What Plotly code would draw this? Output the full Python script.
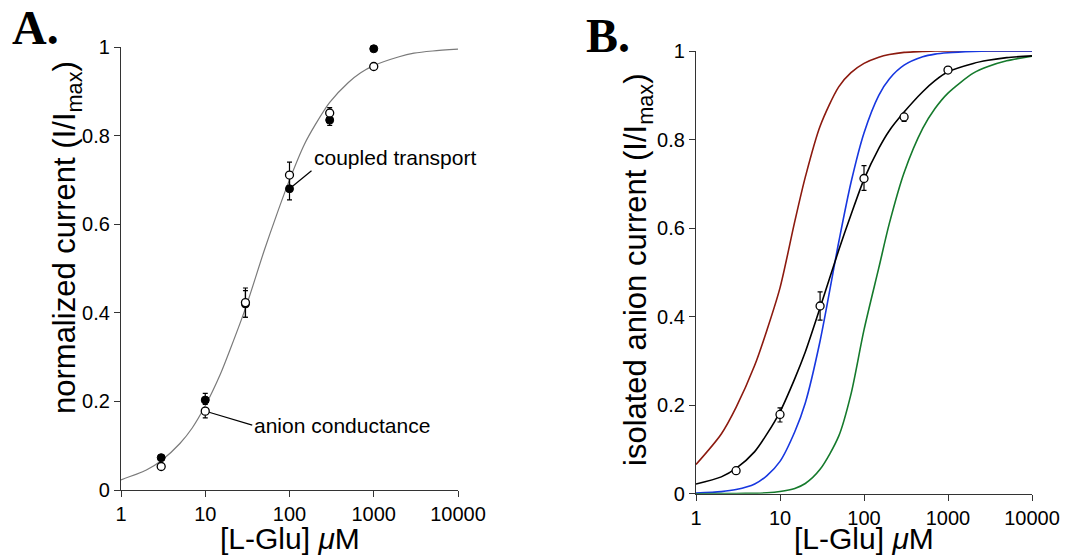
import plotly.graph_objects as go
import math

# ---------------- data ----------------
CONC = [3, 10, 30, 100, 300, 1000]

# Panel A
A_anion = [0.053, 0.178, 0.423, 0.711, 0.851, 0.956]
A_anion_err_plus = [0, 0, 0.033, 0.029, 0.012, 0]
A_anion_err_minus = [0, 0.015, 0.033, 0.03, 0, 0]
A_coupled = [0.073, 0.203, 0.42, 0.680, 0.835, 0.996]
A_coupled_err_plus = [0, 0.015, 0.03, 0.03, 0, 0]
A_coupled_err_minus = [0, 0.01, 0.03, 0.025, 0.012, 0]

# fitted curves
X_CURVE = [1, 2, 3, 5, 7, 10, 15, 20, 30, 50, 70, 100, 150, 200, 300, 500, 700,
           1000, 2000, 3000, 5000, 10000]
A_fit = [0.023, 0.045, 0.066, 0.105, 0.14, 0.19, 0.26, 0.32, 0.41, 0.54, 0.62, 0.70,
         0.78, 0.823, 0.875, 0.92, 0.942, 0.958, 0.978, 0.986, 0.991, 0.995]

# Panel B
B_anion = [0.052, 0.179, 0.424, 0.712, 0.851, 0.957]
B_err_plus = [0, 0.015, 0.032, 0.029, 0.005, 0]
B_err_minus = [0, 0.017, 0.032, 0.027, 0.01, 0]
B_black = [0.022, 0.038, 0.057, 0.095, 0.135, 0.185, 0.26, 0.32, 0.42, 0.55, 0.63, 0.71,
           0.78, 0.82, 0.862, 0.908, 0.933, 0.953, 0.972, 0.979, 0.985, 0.989]
B_red = [0.066, 0.135, 0.195, 0.29, 0.37, 0.465, 0.615, 0.715, 0.83, 0.919, 0.951, 0.972,
         0.986, 0.992, 0.997, 0.999, 1.0, 1.0, 1.0, 1.0, 1.0, 1.0]
B_blue = [0.0014, 0.0047, 0.0094, 0.022, 0.041, 0.073, 0.14, 0.205, 0.345, 0.568, 0.703, 0.815,
          0.90, 0.937, 0.968, 0.987, 0.993, 0.996, 0.999, 1.0, 1.0, 1.0]
B_green = [0.0, 0.0002, 0.0005, 0.001, 0.002, 0.005, 0.012, 0.023, 0.055, 0.13, 0.225, 0.37,
           0.51, 0.61, 0.725, 0.825, 0.87, 0.905, 0.95, 0.965, 0.978, 0.988]

X_TICKS = [1, 10, 100, 1000, 10000]
X_TICKTEXT = ["1", "10", "100", "1000", "10000"]
Y_TICKS = [0, 0.2, 0.4, 0.6, 0.8, 1]
Y_TICKTEXT = ["0", "0.2", "0.4", "0.6", "0.8", "1"]

# ---------------- layout constants ----------------
W, H = 1081, 559
OFF = 8  # the page body margin shifts the figure by this many pixels
SANS = "Liberation Sans, Arial, Helvetica, sans-serif"
SERIF = "Liberation Serif, Times New Roman, serif"
AXC = "#333333"

def px(x):
    return (x - OFF) / W

def py(y):
    return 1 - (y - OFF) / H

fig = go.Figure()

# ---- Panel A ----
fig.add_trace(go.Scatter(x=X_CURVE, y=A_fit, mode="lines", line=dict(color="#7a7a7a", width=1.2, shape="spline", smoothing=0.8),
                         xaxis="x", yaxis="y", hoverinfo="skip", cliponaxis=False))
fig.add_trace(go.Scatter(x=CONC, y=A_coupled, mode="markers",
                         marker=dict(symbol="circle", size=8, color="black", line=dict(color="black", width=1)),
                         error_y=dict(type="data", symmetric=False, array=A_coupled_err_plus,
                                      arrayminus=A_coupled_err_minus, color="black", thickness=1.2, width=2.5),
                         xaxis="x", yaxis="y", cliponaxis=False))
fig.add_trace(go.Scatter(x=CONC, y=A_anion, mode="markers",
                         marker=dict(symbol="circle", size=8, color="white", line=dict(color="black", width=1.3)),
                         error_y=dict(type="data", symmetric=False, array=A_anion_err_plus,
                                      arrayminus=A_anion_err_minus, color="black", thickness=1.2, width=2.5),
                         xaxis="x", yaxis="y", cliponaxis=False))

# ---- Panel B ----
for ys, col in [(B_red, "#8c1a0f"), (B_blue, "#1737e0"), (B_green, "#157a2c"), (B_black, "black")]:
    fig.add_trace(go.Scatter(x=X_CURVE, y=ys, mode="lines",
                             line=dict(color=col, width=1.6, shape="spline", smoothing=0.8),
                             xaxis="x2", yaxis="y2", hoverinfo="skip", cliponaxis=False))
fig.add_trace(go.Scatter(x=CONC, y=B_anion, mode="markers",
                         marker=dict(symbol="circle", size=8, color="white", line=dict(color="black", width=1.3)),
                         error_y=dict(type="data", symmetric=False, array=B_err_plus,
                                      arrayminus=B_err_minus, color="black", thickness=1.2, width=2.5),
                         xaxis="x2", yaxis="y2", cliponaxis=False))

xa = dict(type="log", range=[0, 4], showline=True, linecolor=AXC, linewidth=1.2,
          ticks="outside", ticklen=6, tickwidth=1.2, tickcolor=AXC, automargin=False,
          tickvals=X_TICKS, ticktext=X_TICKTEXT, showgrid=False, zeroline=False,
          tickfont=dict(family=SANS, size=20, color="black"))
ya = dict(range=[0, 1], showline=True, linecolor=AXC, linewidth=1.2,
          ticks="outside", ticklen=6, tickwidth=1.2, tickcolor=AXC, automargin=False,
          tickvals=Y_TICKS, ticktext=Y_TICKTEXT, showgrid=False, zeroline=False,
          tickfont=dict(family=SANS, size=20, color="black"))

fig.update_layout(
    width=W, height=H, margin=dict(l=0, r=0, t=0, b=0, pad=0, autoexpand=False),
    paper_bgcolor="white", plot_bgcolor="white", showlegend=False,
    xaxis=dict(xa, domain=[px(121), px(458)], anchor="y"),
    yaxis=dict(ya, domain=[py(490), py(47)], anchor="x"),
    xaxis2=dict(xa, domain=[px(696), px(1032)], anchor="y2"),
    yaxis2=dict(ya, domain=[py(493.7), py(51)], anchor="x2"),
)

ann = []
# panel letters
ann.append(dict(text="<b>A.</b>", x=px(35), y=py(27), xref="paper", yref="paper", showarrow=False,
                font=dict(family=SERIF, size=48, color="black"), xanchor="center", yanchor="middle"))
ann.append(dict(text="<b>B.</b>", x=px(608), y=py(36), xref="paper", yref="paper", showarrow=False,
                font=dict(family=SERIF, size=48, color="black"), xanchor="center", yanchor="middle"))
# axis titles
ann.append(dict(text="normalized current (I/I<sub>max</sub>)", x=px(67), y=py(238), xref="paper", yref="paper",
                showarrow=False, textangle=-90, font=dict(family=SANS, size=31, color="black"),
                xanchor="center", yanchor="middle"))
ann.append(dict(text="isolated anion current (I/I<sub>max</sub>)", x=px(638), y=py(270), xref="paper", yref="paper",
                showarrow=False, textangle=-90, font=dict(family=SANS, size=31, color="black"),
                xanchor="center", yanchor="middle"))
for cx in (290, 864):
    ann.append(dict(text="[L-Glu] <i>μ</i>M", x=px(cx), y=py(538), xref="paper", yref="paper",
                    showarrow=False, font=dict(family=SANS, size=30, color="black"),
                    xanchor="center", yanchor="middle"))
# callouts
ann.append(dict(text="coupled transport", x=math.log10(CONC[3]), y=A_coupled[3], xref="x", yref="y",
                showarrow=True, arrowhead=0, arrowwidth=1.2, arrowcolor="black", standoff=0,
                ax=22, ay=-18, xanchor="left", yanchor="bottom",
                font=dict(family=SANS, size=21, color="black")))
ann.append(dict(text="anion conductance", x=math.log10(CONC[1]), y=A_anion[1], xref="x", yref="y",
                showarrow=True, arrowhead=0, arrowwidth=1.2, arrowcolor="black", standoff=4,
                ax=47, ay=14, xanchor="left", yanchor="middle",
                font=dict(family=SANS, size=21, color="black")))
fig.update_layout(annotations=ann)

fig.write_html("out.html")
